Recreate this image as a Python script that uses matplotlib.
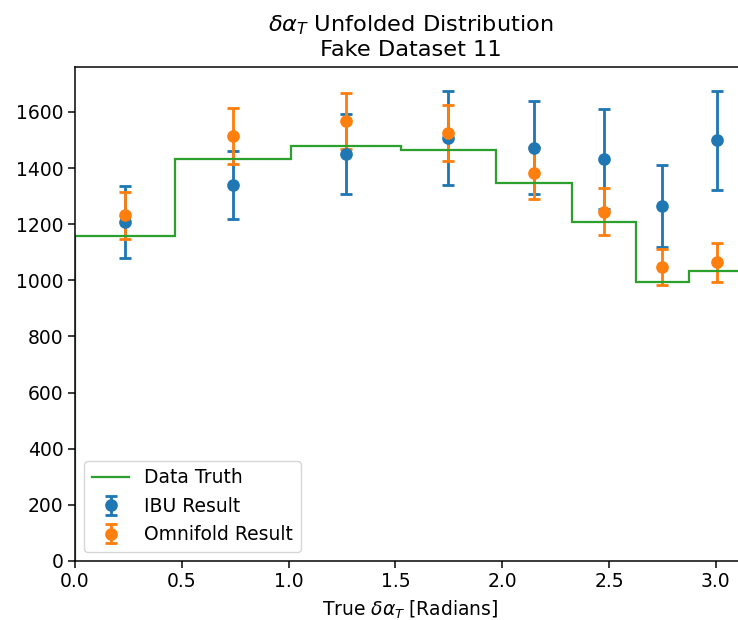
import numpy as np
import matplotlib
matplotlib.use("Agg")
import matplotlib.pyplot as plt
from matplotlib.lines import Line2D

# bin edges of true delta alpha_T [rad]
bin_edges = [0.0, 0.467, 1.013, 1.528, 1.969, 2.325, 2.627, 2.873, np.pi]

truth = [1158, 1432, 1477, 1463, 1345, 1209, 994, 1032]

ibu_vals = [1208, 1338, 1451, 1507, 1473, 1432, 1266, 1499]
ibu_errs = [128, 121, 142, 168, 167, 177, 146, 177]

omni_vals = [1232, 1515, 1568, 1525, 1382, 1245, 1047, 1064]
omni_errs = [84, 99, 99, 100, 92, 83, 65, 70]

edges = np.array(bin_edges)
centers = 0.5 * (edges[1:] + edges[:-1])

s = 1.35  # the original was rendered at ~135 dpi
plt.rcParams["font.size"] = 10 * s

fig = plt.figure(figsize=(7.38, 6.2), dpi=100)
ax = fig.add_axes([75 / 738, 59 / 620, 671 / 738, 494 / 620])

h_ibu = ax.errorbar(centers, ibu_vals, yerr=ibu_errs, fmt="o", color="C0",
                    ms=6 * s, elinewidth=1.5 * s, capsize=3 * s,
                    capthick=1.5 * s, label="IBU Result")
h_omni = ax.errorbar(centers, omni_vals, yerr=omni_errs, fmt="o", color="C1",
                     ms=6 * s, elinewidth=1.5 * s, capsize=3 * s,
                     capthick=1.5 * s, label="Omnifold Result")
ax.hist(centers, bins=edges, weights=truth, histtype="step", color="C2",
        lw=1.2 * s)
h_truth = Line2D([], [], color="C2", lw=1.2 * s, label="Data Truth")

ax.set_xlim(0, np.pi)
ax.set_ylim(0, 1760)
ax.tick_params(width=0.8 * s, length=3.5 * s)
for sp in ax.spines.values():
    sp.set_linewidth(0.8 * s)

ax.set_title(r"$\delta\alpha_T$ Unfolded Distribution" + "\nFake Dataset 11",
             fontsize=12 * s, pad=6 * s)
ax.set_xlabel(r"True $\delta\alpha_T$ [Radians]", labelpad=4 * s)
ax.legend(handles=[h_truth, h_ibu, h_omni], loc="lower left")

fig.savefig("out.png", dpi=100)
